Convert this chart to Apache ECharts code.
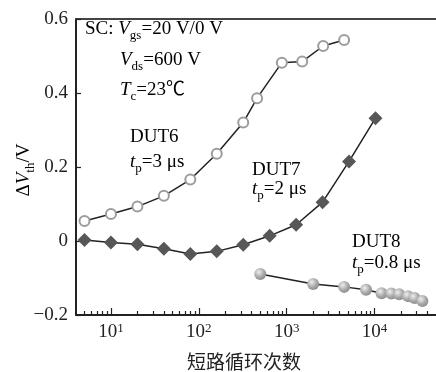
<!DOCTYPE html>
<html>
<head>
<meta charset="utf-8">
<script src="https://cdn.jsdelivr.net/npm/echarts@6/dist/echarts.min.js"></script>
<style>
  html, body { margin: 0; padding: 0; background: #fff; }
  #chart { width: 436px; height: 372px; }
</style>
</head>
<body>
<div id="chart"></div>
<script>
// 数据
const dut6X = [5, 10, 20, 40, 80, 160, 320, 460, 880, 1500, 2600, 4500];
const dut6Y = [0.054, 0.073, 0.093, 0.122, 0.166, 0.236, 0.32, 0.386, 0.482, 0.485, 0.527, 0.543];
const dut7X = [5, 10, 20, 40, 80, 160, 320, 640, 1280, 2560, 5120, 10240];
const dut7Y = [0.003, -0.004, -0.009, -0.021, -0.035, -0.028, -0.01, 0.014, 0.044, 0.105, 0.215, 0.332];
const dut8X = [500, 2000, 4500, 8000, 12000, 15500, 19000, 24000, 28500, 35000];
const dut8Y = [-0.089, -0.116, -0.124, -0.132, -0.141, -0.142, -0.144, -0.149, -0.154, -0.162];
const xTicks = [10, 100, 1000, 10000];
const yTicks = [-0.2, 0, 0.2, 0.4, 0.6];

const SERIF = '"Liberation Serif", "Noto Sans CJK SC", serif';
const INK = '#222';

// 对数轴的次刻度 2..9 × 10^n
const minorTicks = [];
for (let p = 0; p <= 4; p++) {
  for (let m = 2; m <= 9; m++) {
    const v = m * Math.pow(10, p);
    if (v > 4 && v < 50000) minorTicks.push(v);
  }
}

const pair = (xs, ys) => xs.map((x, i) => [x, ys[i]]);

const rich = {
  n: { fontFamily: SERIF, fontSize: 19, lineHeight: 26, color: INK },
  i: { fontFamily: SERIF, fontSize: 19, lineHeight: 26, color: INK, fontStyle: 'italic' },
  s: { fontFamily: SERIF, fontSize: 13, lineHeight: 14, color: INK, verticalAlign: 'bottom' }
};

function note(x, y, text, align, rotation) {
  return {
    type: 'text', x: x, y: y, rotation: rotation || 0,
    style: { text: text, rich: rich, align: align || 'left', verticalAlign: 'middle' }
  };
}

const chart = echarts.init(document.getElementById('chart'));
chart.setOption({
  animation: false,
  backgroundColor: '#fff',
  grid: { left: 76, right: 0, top: 19, bottom: 57, containLabel: false, outerBoundsMode: 'none' },
  xAxis: [
    {
      type: 'log', logBase: 10, min: 4, max: 50000, position: 'bottom',
      axisLine: { show: true, onZero: false, lineStyle: { color: INK, width: 2 } },
      axisTick: { show: true, inside: true, length: 7, customValues: xTicks, lineStyle: { color: INK, width: 1.2 } },
      axisLabel: {
        customValues: xTicks, margin: 7,
        formatter: v => '{b|10}{sup|' + Math.round(Math.log10(v)) + '}',
        rich: {
          b: { fontFamily: SERIF, fontSize: 19, lineHeight: 20, color: INK },
          sup: { fontFamily: SERIF, fontSize: 13, lineHeight: 12, color: INK, verticalAlign: 'top' }
        }
      },
      splitLine: { show: false }
    },
    {
      type: 'log', logBase: 10, min: 4, max: 50000, position: 'bottom',
      axisLine: { show: false, onZero: false },
      axisTick: { show: true, inside: true, length: 4, customValues: minorTicks, lineStyle: { color: INK, width: 1.2 } },
      axisLabel: { show: false },
      splitLine: { show: false }
    },
    {
      type: 'log', logBase: 10, min: 4, max: 50000, position: 'top',
      axisLine: { show: true, onZero: false, lineStyle: { color: '#444', width: 2 } },
      axisTick: { show: false },
      axisLabel: { show: false },
      splitLine: { show: false }
    }
  ],
  yAxis: {
    type: 'value', min: -0.2, max: 0.6, interval: 0.2,
    axisLine: { show: true, lineStyle: { color: INK, width: 2 } },
    axisTick: { show: true, inside: true, length: 5, customValues: yTicks, lineStyle: { color: INK, width: 1.2 } },
    axisLabel: {
      margin: 8, fontFamily: SERIF, fontSize: 19, color: INK,
      formatter: v => Math.abs(v) < 1e-9 ? '0' : (v < 0 ? '\u2212' : '') + Math.abs(v).toFixed(1)
    },
    splitLine: { show: false }
  },
  graphic: [
    note(24, 170, '{n|\u0394}{i|V}{s|th}{n|/V}', 'center', Math.PI / 2),
    note(85, 29, '{n|SC: }{i|V}{s|gs}{n|=20 V/0 V}'),
    note(120, 60, '{i|V}{s|ds}{n|=600 V}'),
    note(120, 90, '{i|T}{s|c}{n|=23\u2103}'),
    note(130, 137, '{n|DUT6}'),
    note(130, 162, '{i|t}{s|p}{n|=3 \u03bcs}'),
    note(252, 170, '{n|DUT7}'),
    note(252, 189, '{i|t}{s|p}{n|=2 \u03bcs}'),
    note(352, 242, '{n|DUT8}'),
    note(352, 263, '{i|t}{s|p}{n|=0.8 \u03bcs}'),
    {
      type: 'text', x: 244, y: 362,
      style: {
        text: '短路循环次数', fill: INK, align: 'center', verticalAlign: 'middle',
        font: '19px "Noto Sans CJK SC"'
      }
    }
  ],
  series: [
    {
      name: 'DUT6', type: 'line', xAxisIndex: 0, data: pair(dut6X, dut6Y),
      symbol: 'circle', symbolSize: 10,
      lineStyle: { color: INK, width: 1.5 },
      itemStyle: { color: '#fff', borderColor: '#9c9c9c', borderWidth: 2 }
    },
    {
      name: 'DUT7', type: 'line', xAxisIndex: 0, data: pair(dut7X, dut7Y),
      symbol: 'diamond', symbolSize: [14, 14],
      lineStyle: { color: INK, width: 1.5 },
      itemStyle: { color: '#575757' }
    },
    {
      name: 'DUT8', type: 'line', xAxisIndex: 0, data: pair(dut8X, dut8Y),
      symbol: 'circle', symbolSize: 12,
      lineStyle: { color: INK, width: 1.5 },
      itemStyle: {
        color: new echarts.graphic.RadialGradient(0.38, 0.35, 0.7, [
          { offset: 0, color: '#eeeeee' },
          { offset: 0.6, color: '#a8a8a8' },
          { offset: 1, color: '#8a8a8a' }
        ])
      }
    }
  ]
});
</script>
</body>
</html>
